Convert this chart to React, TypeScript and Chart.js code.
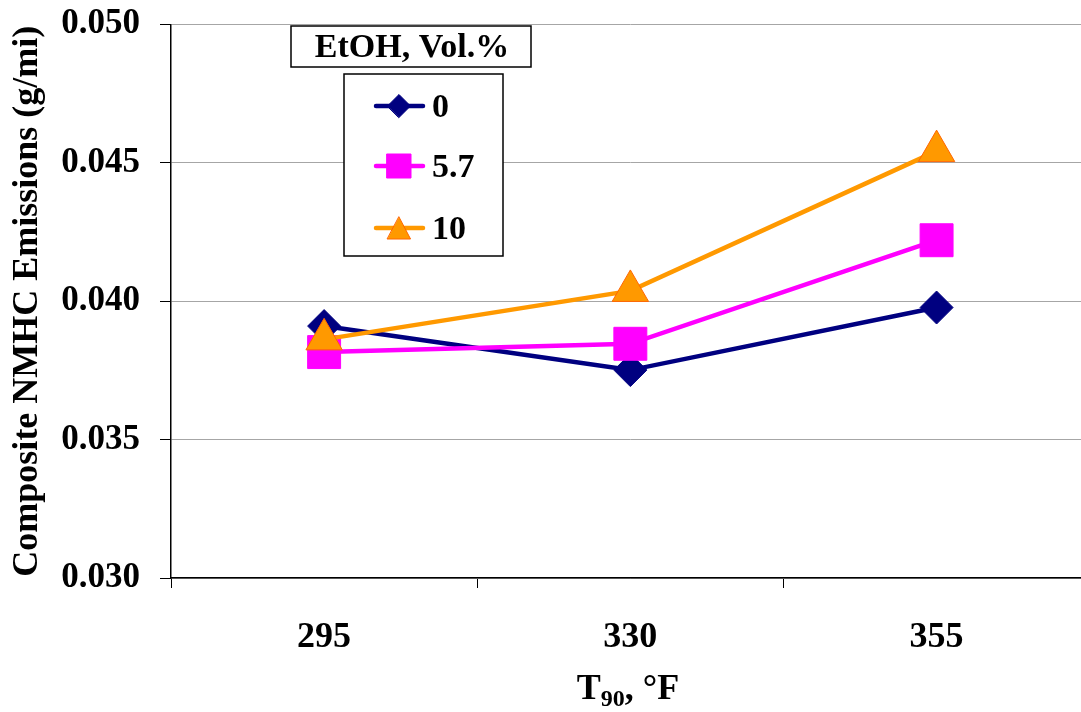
import React, { useEffect, useRef } from 'react';
import { Chart, registerables } from 'chart.js';

Chart.register(...registerables);

const categories = ['295', '330', '355'];
const seriesLabels = ['0', '5.7', '10'];
const ethanol0 = [0.0391, 0.03751, 0.03977];
const ethanol57 = [0.03816, 0.03846, 0.0422];
const ethanol10 = [0.03862, 0.04037, 0.04542];
const yTickValues = [0.03, 0.035, 0.04, 0.045, 0.05];
const legendTitle = 'EtOH, Vol.%';
const yAxisTitle = 'Composite NMHC Emissions (g/mi)';
const xAxisTitleMain = 'T';
const xAxisTitleSub = '90';
const xAxisTitleRest = ', \u00B0F';

const SERIF = '"Liberation Serif", "Times New Roman", serif';
const CANVAS_W = 1114;
const CANVAS_H = 712;

const seriesStyles = [
  { color: '#000080', border: '#000080', style: 'rectRot', radius: 16.5 },
  { color: '#FF00FF', border: '#FF00FF', style: 'rect', radius: 23.3 },
  { color: '#FF9900', border: '#FF6600', style: 'triangle', radius: 21 },
];

function drawMarker(ctx: CanvasRenderingContext2D, style: string, x: number, y: number, size: number, fill: string, stroke: string) {
  ctx.save();
  ctx.beginPath();
  if (style === 'rectRot') {
    ctx.moveTo(x - size, y);
    ctx.lineTo(x, y - size);
    ctx.lineTo(x + size, y);
    ctx.lineTo(x, y + size);
    ctx.closePath();
  } else if (style === 'rect') {
    ctx.rect(x - size, y - size, size * 2, size * 2);
  } else {
    const h = size * 2;
    ctx.moveTo(x, y - h / 2);
    ctx.lineTo(x + size * 1.05, y + h / 2);
    ctx.lineTo(x - size * 1.05, y + h / 2);
    ctx.closePath();
  }
  ctx.fillStyle = fill;
  ctx.fill();
  ctx.strokeStyle = stroke;
  ctx.lineWidth = 1;
  ctx.stroke();
  ctx.restore();
}

const customPlugin = {
  id: 'customDecor',
  afterDraw(chart: any) {
    const ctx: CanvasRenderingContext2D = chart.ctx;
    ctx.save();
    // Legend title box
    ctx.fillStyle = '#ffffff';
    ctx.strokeStyle = '#000000';
    ctx.lineWidth = 1.5;
    ctx.fillRect(291, 26, 240, 41);
    ctx.strokeRect(291, 26, 240, 41);
    ctx.fillStyle = '#000';
    ctx.font = `bold 34px ${SERIF}`;
    ctx.textAlign = 'center';
    ctx.textBaseline = 'middle';
    ctx.fillText(legendTitle, 412, 48);

    // Legend items box
    ctx.fillStyle = '#ffffff';
    ctx.fillRect(344, 74, 159, 182);
    ctx.strokeRect(344, 74, 159, 182);
    const rows = [106, 166, 228];
    chart.data.datasets.forEach((ds: any, i: number) => {
      const st = seriesStyles[i];
      const y = rows[i];
      ctx.strokeStyle = st.color;
      ctx.lineWidth = 4.5;
      ctx.lineCap = 'round';
      ctx.beginPath();
      ctx.moveTo(376, y);
      ctx.lineTo(423, y);
      ctx.stroke();
      const size = st.style === 'rectRot' ? 11.5 : st.style === 'rect' ? 12 : 11;
      drawMarker(ctx, st.style, 399, y, size, st.color, st.border);
      ctx.fillStyle = '#000';
      ctx.font = `bold 34px ${SERIF}`;
      ctx.textAlign = 'left';
      ctx.textBaseline = 'middle';
      ctx.fillText(ds.label, 432, y + 2);
    });

    // X axis title with subscript
    const cx = 628;
    const baseY = 699;
    ctx.fillStyle = '#000';
    ctx.textBaseline = 'alphabetic';
    ctx.textAlign = 'left';
    ctx.font = `bold 36px ${SERIF}`;
    const wT = ctx.measureText(xAxisTitleMain).width;
    const wR = ctx.measureText(xAxisTitleRest).width;
    ctx.font = `bold 24px ${SERIF}`;
    const wS = ctx.measureText(xAxisTitleSub).width;
    const total = wT + wS + wR;
    let x = cx - total / 2;
    ctx.font = `bold 36px ${SERIF}`;
    ctx.fillText(xAxisTitleMain, x, baseY);
    x += wT;
    ctx.font = `bold 24px ${SERIF}`;
    ctx.fillText(xAxisTitleSub, x, baseY + 7);
    x += wS;
    ctx.font = `bold 36px ${SERIF}`;
    ctx.fillText(xAxisTitleRest, x, baseY);
    ctx.restore();
  },
};

export default function App() {
  const canvasRef = useRef<HTMLCanvasElement | null>(null);

  useEffect(() => {
    const canvas = canvasRef.current;
    if (!canvas) return;
    const seriesData = [ethanol0, ethanol57, ethanol10];
    const chart = new Chart(canvas, {
      type: 'line',
      data: {
        labels: categories,
        datasets: seriesData.map((d, i) => ({
          label: seriesLabels[i],
          data: d,
          borderColor: seriesStyles[i].color,
          backgroundColor: seriesStyles[i].color,
          borderWidth: 4.5,
          pointStyle: seriesStyles[i].style as any,
          pointRadius: seriesStyles[i].radius,
          pointHoverRadius: seriesStyles[i].radius,
          pointBackgroundColor: seriesStyles[i].color,
          pointBorderColor: seriesStyles[i].border,
          pointBorderWidth: 1,
          tension: 0,
          fill: false,
          order: 3 - i,
        })),
      },
      options: {
        responsive: false,
        animation: false,
        devicePixelRatio: 1,
        layout: { padding: { top: 22, right: 3, left: 0, bottom: 0 } },
        plugins: {
          legend: { display: false },
          tooltip: { enabled: false },
          title: { display: false },
        },
        scales: {
          x: {
            type: 'category',
            offset: true,
            grid: {
              offset: true,
              drawOnChartArea: false,
              drawTicks: true,
              tickLength: 10,
              tickColor: '#000',
              tickWidth: 1,
            },
            border: { display: true, color: '#000', width: 1.5 },
            ticks: {
              color: '#000',
              padding: 28,
              font: { family: SERIF, size: 36, weight: 'bold' },
            },
            afterFit: (scale: any) => {
              scale.height = 134;
              scale.paddingLeft = 0;
              scale.paddingRight = 0;
              scale.paddingTop = 0;
              scale.paddingBottom = 0;
            },
          },
          y: {
            type: 'linear',
            min: 0.03,
            max: 0.05,
            afterBuildTicks: (scale: any) => {
              scale.ticks = yTickValues.map((v) => ({ value: v }));
            },
            grid: {
              color: '#a6a6a6',
              lineWidth: 1,
              drawTicks: true,
              tickLength: 11,
              tickColor: '#000',
            },
            border: { display: true, color: '#000', width: 1.5 },
            ticks: {
              color: '#000',
              padding: 20,
              font: { family: SERIF, size: 35, weight: 'bold' },
              callback: (v: any) => Number(v).toFixed(3),
            },
            title: {
              display: true,
              text: yAxisTitle,
              color: '#000',
              font: { family: SERIF, size: 36, weight: 'bold' },
              padding: { top: 6, bottom: 0 },
            },
            afterFit: (scale: any) => {
              scale.width = 171;
              scale.paddingLeft = 0;
              scale.paddingRight = 0;
              scale.paddingTop = 0;
              scale.paddingBottom = 0;
            },
          },
        },
      },
      plugins: [customPlugin],
    });
    return () => chart.destroy();
  }, []);

  return (
    <div
      style={{
        position: 'fixed',
        left: 0,
        top: 0,
        width: 1081,
        height: 712,
        overflow: 'hidden',
        background: '#fff',
      }}
    >
      <canvas
        ref={canvasRef}
        width={CANVAS_W}
        height={CANVAS_H}
        style={{ display: 'block', width: CANVAS_W + 'px', height: CANVAS_H + 'px', maxWidth: 'none' }}
      />
    </div>
  );
}
